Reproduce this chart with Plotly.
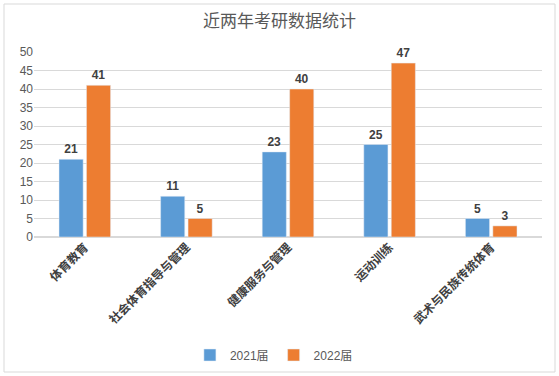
import plotly.graph_objects as go

categories = ["体育教育", "社会体育指导与管理", "健康服务与管理", "运动训练", "武术与民族传统体育"]
series_2021 = [21, 11, 23, 25, 5]
series_2022 = [41, 5, 40, 47, 3]
series_names = ["2021届", "2022届"]
y_ticks = [0, 5, 10, 15, 20, 25, 30, 35, 40, 45, 50]

W, H = 559, 376
ML, MR, MT, MB = 34, 17, 52, 139
pw, ph = W - ML - MR, H - MT - MB

fig = go.Figure()
for name, vals, col in [(series_names[0], series_2021, "#5B9BD5"), (series_names[1], series_2022, "#ED7D31")]:
    fig.add_trace(go.Bar(
        x=categories, y=vals, name=name, marker_color=col,
        text=vals, textposition="outside", cliponaxis=False,
        textfont=dict(family="Liberation Sans, Arial", size=12, color="#404040", weight="bold"),
    ))

def px_x(p):
    return (p - ML) / pw

def px_y(p):
    return (H - MB - p) / ph

fig.add_shape(type="rect", xref="paper", yref="paper",
              x0=px_x(4), x1=px_x(555), y0=px_y(372), y1=px_y(4),
              line=dict(color="#D9D9D9", width=1), fillcolor="rgba(0,0,0,0)", layer="below")

fig.update_layout(
    width=W, height=H,
    margin=dict(l=ML, r=MR, t=MT, b=MB, autoexpand=False),
    paper_bgcolor="white", plot_bgcolor="white",
    title=dict(text="近两年考研数据统计", x=0.5, xref="container", y=1 - 21 / H, yanchor="middle",
               font=dict(family="Noto Sans CJK SC", size=17, color="#595959")),
    barmode="group", bargap=0.46, bargroupgap=0.12,
    showlegend=True,
    legend=dict(orientation="h", x=0.49, xanchor="center", xref="container", y=(H - 355) / H, yref="container", yanchor="middle",
                font=dict(family="Liberation Sans, Noto Sans CJK SC", size=12, color="#595959"),
                itemwidth=30),
    xaxis=dict(tickangle=-45, showgrid=False, showline=False, ticks="", automargin=False,
               tickfont=dict(family="Noto Sans CJK SC", size=12, color="#404040", weight="bold")),
    yaxis=dict(range=[0, 50], tickvals=y_ticks, showgrid=True, gridcolor="#D9D9D9", gridwidth=1,
               zeroline=True, zerolinecolor="#D9D9D9", showline=False, ticks="", automargin=False,
               tickfont=dict(family="Liberation Sans, Arial", size=12, color="#595959")),
)

fig.write_html("out.html", config={"displayModeBar": False},
               post_script="document.body.style.margin='0';")
